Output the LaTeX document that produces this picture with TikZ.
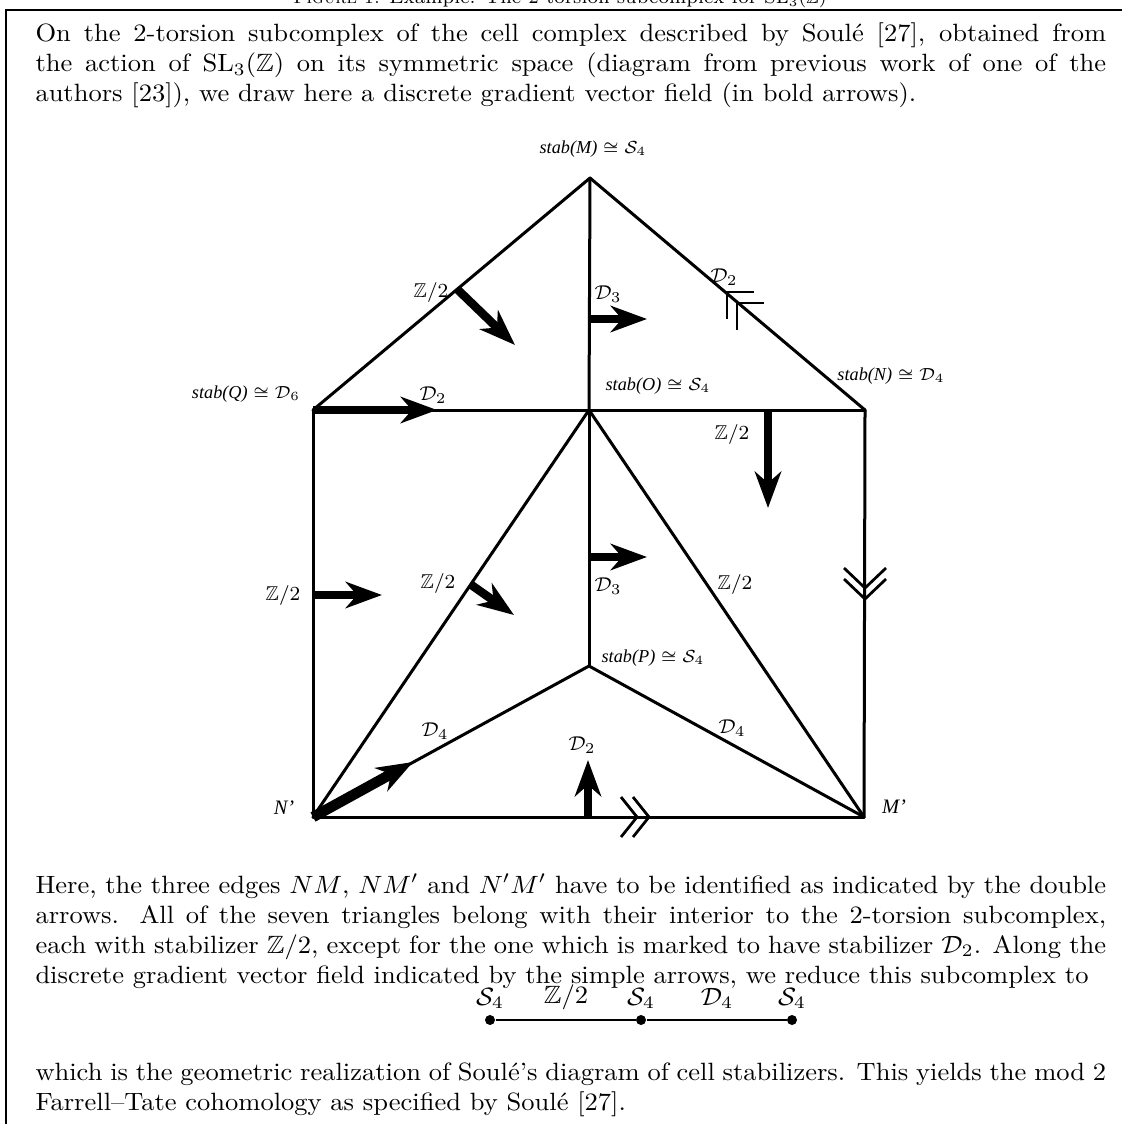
\documentclass[tikz,border=0pt]{standalone}
\usepackage{amssymb}
\usepackage{graphicx}
\usepackage{fontspec}
\newfontfamily\figfont{Liberation Serif}
\usetikzlibrary{arrows.meta,calc}
\newcommand\stb[1]{{\figfont\itshape stab(#1)}}
\newcommand\wide[1]{\scalebox{1.06}[1]{#1}}
\newcommand\just[1]{\scalebox{1.06}[1]{\makebox[404pt][s]{#1}}}
\begin{document}
\begin{tikzpicture}[x=0.4pt,y=-0.4pt,
  edge/.style={line width=1.2pt, line cap=round},
  bold/.style={line width=3.4pt, -{Stealth[length=14.5pt,width=10.5pt,inset=4.5pt]}},
  chev/.style={line width=1.1pt},
  lab/.style={font=\footnotesize, inner sep=0pt},
  vlab/.style={font=\fontsize{7.3}{8}\selectfont, inner sep=0pt},
  plab/.style={font=\fontsize{8.2}{9}\selectfont, inner sep=0pt},
  txt/.style={anchor=base west, inner sep=0pt, font=\normalsize},
  dot/.style={circle, fill, inner sep=0pt, minimum size=4pt}]
\useasboundingbox (0,0) rectangle (1121,1124);
% frame and cut caption
\draw[line width=0.8pt] (1140,10) -- (6,10) -- (6,1140);
\node[anchor=base, inner sep=0pt, font=\fontsize{7.4}{9}\selectfont] (cap) at (560,4) {\textsc{Figure 1.} Example: The 2-torsion subcomplex for $\mathrm{SL}_3(\mathbb{Z})$};
% text above
\node[txt] (l1) at (35,42) {\just{On the 2-torsion subcomplex of the cell complex described by Soulé [27], obtained from}};
\node[txt] (l2) at (35,72) {\just{the action of $\mathrm{SL}_3(\mathbb{Z})$ on its symmetric space (diagram from previous work of one of the}};
\node[txt] (l3) at (35,102) {\wide{authors [23]), we draw here a discrete gradient vector field (in bold arrows).}};
% vertices
\coordinate (M) at (590,178);
\coordinate (Q) at (313,410);
\coordinate (O) at (589,410);
\coordinate (N) at (865,410);
\coordinate (P) at (589,666);
\coordinate (N') at (313,817);
\coordinate (M') at (864,817);
% edges
\draw[edge] (M) -- (Q);
\draw[edge] (M) -- (N);
\draw[edge] (M) -- (O);
\draw[edge] (Q) -- (O);
\draw[edge] (O) -- (N);
\draw[edge] (Q) -- (N');
\draw[edge] (N) -- (M');
\draw[edge] (N') -- (M');
\draw[edge] (O) -- (N');
\draw[edge] (O) -- (M');
\draw[edge] (O) -- (P);
\draw[edge] (P) -- (N');
\draw[edge] (P) -- (M');
% vertex labels
\node[vlab] (lM) at (593,149) {\stb{M}${}\cong\mathcal{S}_4$};
\node[vlab] (lQ) at (246,394) {\stb{Q}${}\cong\mathcal{D}_6$};
\node[vlab] (lO) at (658,386) {\stb{O}${}\cong\mathcal{S}_4$};
\node[vlab] (lN) at (891,376) {\stb{N}${}\cong\mathcal{D}_4$};
\node[vlab] (lP) at (653,658) {\stb{P}${}\cong\mathcal{S}_4$};
\node[plab] (lN') at (284,808) {{\figfont\itshape N’}};
\node[plab] (lM') at (894,807) {{\figfont\itshape M’}};
% edge labels
\node[lab] (e1) at (431,293) {$\mathbb{Z}/2$};
\node[lab] (e2) at (608,294) {$\mathcal{D}_3$};
\node[lab] (e3) at (724,277) {$\mathcal{D}_2$};
\node[lab] (e4) at (433,395) {$\mathcal{D}_2$};
\node[lab] (e5) at (732,434) {$\mathbb{Z}/2$};
\node[lab] (e6) at (283,595) {$\mathbb{Z}/2$};
\node[lab] (e7) at (438,583) {$\mathbb{Z}/2$};
\node[lab] (e8) at (608,586) {$\mathcal{D}_3$};
\node[lab] (e9) at (735,584) {$\mathbb{Z}/2$};
\node[lab] (e10) at (435,731) {$\mathcal{D}_4$};
\node[lab] (e11) at (582,745) {$\mathcal{D}_2$};
\node[lab] (e12) at (732,728) {$\mathcal{D}_4$};
% bold arrows
\coordinate (a1s) at (457,289); \coordinate (a1e) at (515,345);
\coordinate (a2s) at (589,319); \coordinate (a2e) at (647,319);
\coordinate (a3e) at (437,410);
\coordinate (a4s) at (768,410); \coordinate (a4e) at (768,508);
\coordinate (a5s) at (313,595); \coordinate (a5e) at (382,595);
\coordinate (a6s) at (470,584); \coordinate (a6e) at (514,615);
\coordinate (a7s) at (589,557); \coordinate (a7e) at (647,557);
\coordinate (a8e) at (413,762);
\coordinate (a9s) at (588,817); \coordinate (a9e) at (588,760);
\draw[bold] (a1s) -- (a1e);
\draw[bold] (a2s) -- (a2e);
\draw[bold] (Q) -- (a3e);
\draw[bold] (a4s) -- (a4e);
\draw[bold] (a5s) -- (a5e);
\draw[bold] (a6s) -- (a6e);
\draw[bold] (a7s) -- (a7e);
\draw[bold, line width=4.2pt] (N') -- (a8e);
\draw[bold] (a9s) -- (a9e);
% double arrows (identification marks)
\draw[chev] (844,568) -- (865,588) -- (886,568);
\draw[chev] (844,579) -- (865,599) -- (886,579);
\draw[chev] (621,797) -- (637,817) -- (621,837);
\draw[chev] (633,797) -- (649,817) -- (633,837);
\draw[chev] (754,292) -- (727,292) -- (727,319);
\draw[chev] (764,303) -- (737,303) -- (737,330);
% text below
\node[txt] (l4) at (35,893) {\just{Here, the three edges $NM$, $NM'$ and $N'M'$ have to be identified as indicated by the double}};
\node[txt] (l5) at (35,923) {\just{arrows. All of the seven triangles belong with their interior to the 2-torsion subcomplex,}};
\node[txt] (l6) at (35,953) {\just{each with stabilizer $\mathbb{Z}/2$, except for the one which is marked to have stabilizer $\mathcal{D}_2$. Along the}};
\node[txt] (l7) at (35,983) {\wide{discrete gradient vector field indicated by the simple arrows, we reduce this subcomplex to}};
% small diagram
\node[dot] (s1) at (490,1020) {};
\node[dot] (s2) at (641,1020) {};
\node[dot] (s3) at (792,1020) {};
\draw[line width=0.9pt] (s1) -- (s2) -- (s3);
\node[anchor=base, inner sep=0pt] (t1) at (490,1005) {\wide{$\mathcal{S}_4$}};
\node[anchor=base, inner sep=0pt] (t2) at (566,1003) {\wide{$\mathbb{Z}/2$}};
\node[anchor=base, inner sep=0pt] (t3) at (641,1005) {\wide{$\mathcal{S}_4$}};
\node[anchor=base, inner sep=0pt] (t4) at (717,1005) {\wide{$\mathcal{D}_4$}};
\node[anchor=base, inner sep=0pt] (t5) at (792,1005) {\wide{$\mathcal{S}_4$}};
\node[txt] (l8) at (35,1080) {\just{which is the geometric realization of Soulé's diagram of cell stabilizers. This yields the mod 2}};
\node[txt] (l9) at (35,1110) {\wide{Farrell--Tate cohomology as specified by Soulé [27].}};
\end{tikzpicture}
\end{document}
